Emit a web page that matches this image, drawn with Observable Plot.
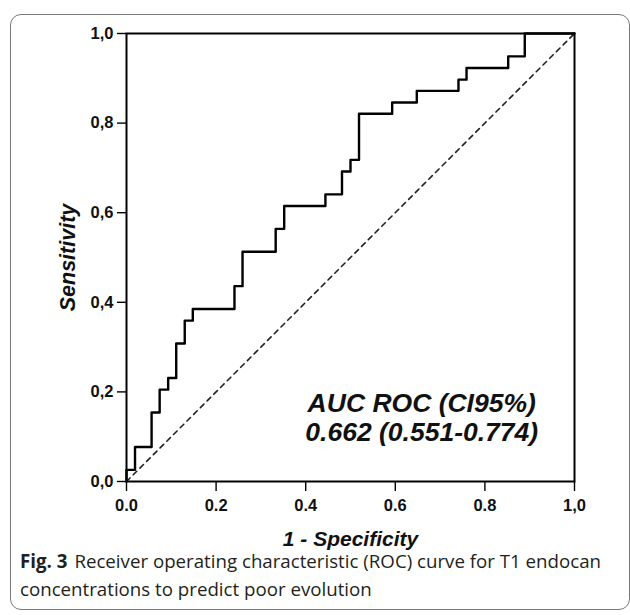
<!DOCTYPE html>
<html>
<head>
<meta charset="utf-8">
<script src="https://cdn.jsdelivr.net/npm/d3@7"></script>
<script src="https://cdn.jsdelivr.net/npm/@observablehq/plot@0.6"></script>
<style>
  html, body { margin: 0; padding: 0; background: #fff; }
  #wrap { position: relative; width: 630px; height: 615px; overflow: hidden; }
  #box { position: absolute; left: 10px; top: 14px; width: 620px; height: 596px;
         border: 1px solid #7a7a7a; border-radius: 11px; box-sizing: border-box; }
  #chart { position: absolute; left: 0; top: 0; }
  .cap { position: absolute; left: 20px; white-space: nowrap;
         font-family: "Open Sans", sans-serif; font-size: 18.7px; line-height: 14px;
         color: #231f20; }
  .cap b { font-weight: 700; margin-right: 7px; }
</style>
</head>
<body>
<div id="wrap">
  <div id="box"></div>
  <div id="chart"></div>
  <div class="cap" style="top:554px"><b>Fig. 3</b><span>Receiver operating characteristic (ROC) curve for T1 endocan</span></div>
  <div class="cap" style="top:582px"><span>concentrations to predict poor evolution</span></div>
</div>
<script>
// ROC operating points (1 - specificity, sensitivity)
const fpr = [0, 0.019, 0.056, 0.074, 0.093, 0.111, 0.130, 0.148, 0.241, 0.259, 0.333, 0.352, 0.444, 0.481, 0.500, 0.519, 0.593, 0.648, 0.741, 0.759, 0.852, 0.889, 1.000];
const tpr = [0, 0.026, 0.077, 0.154, 0.205, 0.231, 0.308, 0.359, 0.385, 0.436, 0.513, 0.564, 0.615, 0.641, 0.692, 0.718, 0.821, 0.846, 0.872, 0.897, 0.923, 0.949, 1.000];

// reference diagonal
const diagX = [0, 1];
const diagY = [0, 1];

// tick values and labels
const tickValues = [0, 0.2, 0.4, 0.6, 0.8, 1.0];
const xTickLabels = ["0.0", "0.2", "0.4", "0.6", "0.8", "1,0"];
const yTickLabels = ["0,0", "0,2", "0,4", "0,6", "0,8", "1,0"];

const xLabel = "1 - Specificity";
const yLabel = "Sensitivity";
const aucLines = ["AUC ROC (CI95%)", "0.662 (0.551-0.774)"];

const roc = fpr.map((x, i) => ({x, y: tpr[i]}));
const diag = diagX.map((x, i) => ({x, y: diagY[i]}));

const FONT = "'Liberation Sans', Arial, sans-serif";

const chart = Plot.plot({
  width: 630,
  height: 552,
  marginLeft: 126,
  marginRight: 56,
  marginTop: 33,
  marginBottom: 71,
  style: { fontFamily: FONT, background: "transparent", overflow: "visible" },
  x: { domain: [0, 1] },
  y: { domain: [0, 1] },
  marks: [
    Plot.line(diag, { x: "x", y: "y", stroke: "#222", strokeWidth: 1.6, strokeDasharray: "5,4.5" }),
    Plot.line(roc, { x: "x", y: "y", curve: "step-before", stroke: "#000", strokeWidth: 2.4 }),
    Plot.frame({ stroke: "#000", strokeWidth: 2 }),
    Plot.axisX({
      ticks: tickValues, tickSize: 10, tickPadding: 8, label: null,
      tickFormat: (d, i) => xTickLabels[i],
      fontSize: 16.5, fontWeight: "bold", stroke: "#000", strokeWidth: 1.4, fill: "#111"
    }),
    Plot.axisY({
      ticks: tickValues, tickSize: 9, tickPadding: 4, label: null,
      tickFormat: (d, i) => yTickLabels[i],
      fontSize: 16.5, fontWeight: "bold", stroke: "#000", strokeWidth: 1.4, fill: "#111"
    }),
    Plot.text([xLabel], {
      frameAnchor: "bottom", dy: 58, text: d => d, textAnchor: "middle", lineAnchor: "middle",
      fontSize: 21, fontWeight: "bold", fontStyle: "italic", fill: "#111"
    }),
    Plot.text([yLabel], {
      frameAnchor: "left", dx: -58, rotate: -90, text: d => d, textAnchor: "middle", lineAnchor: "middle",
      fontSize: 21.5, fontWeight: "bold", fontStyle: "italic", fill: "#111"
    }),
    Plot.text(aucLines, {
      x: 0.659, y: (d, i) => [0.174, 0.110][i], text: d => d,
      fontSize: 26.5, fontWeight: "bold", fontStyle: "italic", fill: "#111"
    })
  ]
});

document.getElementById("chart").appendChild(chart);
</script>
</body>
</html>
